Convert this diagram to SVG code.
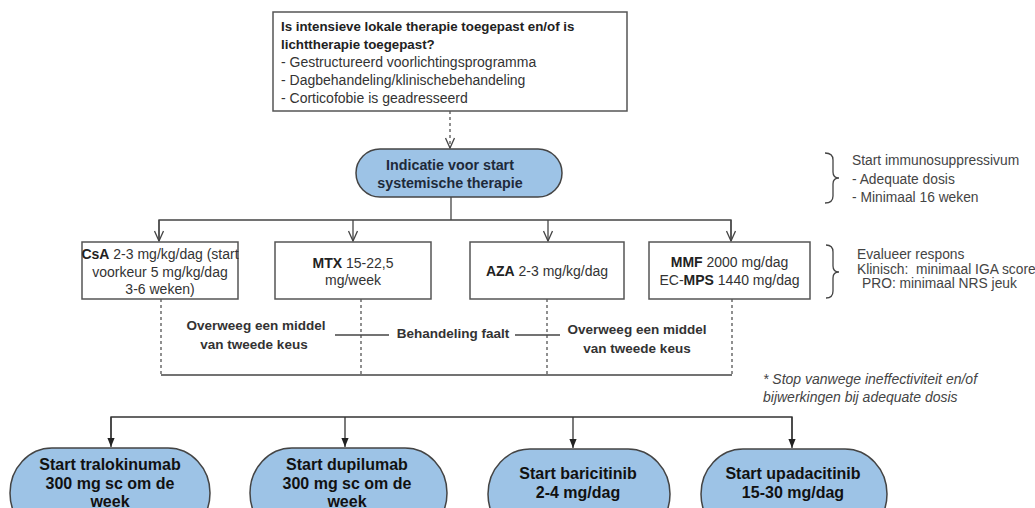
<svg xmlns="http://www.w3.org/2000/svg" width="1035" height="508" viewBox="0 0 1035 508">
<defs>
<style>
text{font-family:"Liberation Sans",Arial,sans-serif;}
.box{fill:#fff;stroke:#555;stroke-width:1.5;}
.pill{fill:#9dc3e6;stroke:#444;stroke-width:1.5;}
.t{font-size:14px;fill:#333;}
.tb{font-size:13.3px;font-weight:bold;fill:#222;}
.tr{font-size:14px;fill:#333;}
.b{font-weight:bold;fill:#222;}
.side{font-size:13.8px;fill:#444;}
.mid{font-size:13.5px;font-weight:bold;fill:#333;}
.pt{font-size:14.3px;font-weight:bold;fill:#1e2a3a;}
.bt{font-size:16px;font-weight:bold;fill:#111;}
.foot{font-size:14px;font-style:italic;fill:#444;}
.ln{fill:none;stroke:#444;stroke-width:1.3;}
.dash{fill:none;stroke:#555;stroke-width:1.3;stroke-dasharray:3,3;}
.lnb{fill:none;stroke:#333;stroke-width:1.3;}
</style>
<marker id="open" viewBox="0 0 12 10" refX="11" refY="5" markerWidth="12" markerHeight="10" markerUnits="userSpaceOnUse" orient="auto">
<path d="M1,0.5 L11,5 L1,9.5" fill="none" stroke="#444" stroke-width="1.3"/>
</marker>
<marker id="fill" viewBox="0 0 10 8" refX="10" refY="4" markerWidth="9" markerHeight="8" markerUnits="userSpaceOnUse" orient="auto">
<path d="M0,0 L10,4 L0,8 Z" fill="#222"/>
</marker>
</defs>

<g id="connectors">
<line class="dash" x1="450" y1="111" x2="450" y2="148" marker-end="url(#open)"/>
<line class="ln" x1="451" y1="197" x2="451" y2="220"/>
<polyline class="ln" points="159,241 159,220 731,220 731,241"/>
<line class="ln" x1="159" y1="220" x2="159" y2="241" marker-end="url(#open)"/>
<line class="ln" x1="353" y1="220" x2="353" y2="241" marker-end="url(#open)"/>
<line class="ln" x1="548" y1="220" x2="548" y2="241" marker-end="url(#open)"/>
<line class="ln" x1="731" y1="220" x2="731" y2="241" marker-end="url(#open)"/>
<line class="dash" x1="161" y1="299" x2="161" y2="375"/>
<line class="dash" x1="361" y1="299" x2="361" y2="375"/>
<line class="dash" x1="547" y1="299" x2="547" y2="375"/>
<line class="dash" x1="732" y1="299" x2="732" y2="375"/>
<line class="ln" x1="161" y1="375" x2="732" y2="375"/>
<line class="ln" x1="335" y1="335" x2="389" y2="335"/>
<line class="ln" x1="515" y1="335" x2="560" y2="335"/>
<polyline class="lnb" points="111,442 111,417 792,417 792,442"/>
<line class="lnb" x1="111" y1="417" x2="111" y2="447" marker-end="url(#fill)"/>
<line class="lnb" x1="345" y1="417" x2="345" y2="447" marker-end="url(#fill)"/>
<line class="lnb" x1="573" y1="417" x2="573" y2="448" marker-end="url(#fill)"/>
<line class="lnb" x1="792" y1="417" x2="792" y2="448" marker-end="url(#fill)"/>
</g>

<g id="top-question">
<rect class="box" x="273" y="12" width="354" height="99"/>
<text class="tb" x="281" y="31">Is intensieve lokale therapie toegepast en/of is</text>
<text class="tb" x="281" y="49">lichttherapie toegepast?</text>
<text class="tr" x="281" y="67">- Gestructureerd voorlichtingsprogramma</text>
<text class="tr" x="281" y="85">- Dagbehandeling/klinischebehandeling</text>
<text class="tr" x="281" y="103">- Corticofobie is geadresseerd</text>
</g>

<g id="indicatie">
<rect class="pill" x="356" y="149" width="206" height="48" rx="24" ry="24"/>
<text class="pt" x="450" y="170" text-anchor="middle">Indicatie voor start</text>
<text class="pt" x="450" y="188" text-anchor="middle">systemische therapie</text>
</g>

<g id="note-immuno">
<path class="ln" d="M825,153 Q833,153 833,160 L833,172 Q833,178 839,178 Q833,178 833,184 L833,196 Q833,203 825,203"/>
<text class="side" x="852" y="165">Start immunosuppressivum</text>
<text class="side" x="852" y="184">- Adequate dosis</text>
<text class="side" x="852" y="202">- Minimaal 16 weken</text>
</g>

<g id="csa">
<rect class="box" x="82" y="242" width="156" height="57"/>
<text class="t" x="160" y="259" text-anchor="middle" font-size="13.5"><tspan class="b">CsA</tspan> 2-3 mg/kg/dag (start</text>
<text class="t" x="160" y="277" text-anchor="middle" font-size="13.5">voorkeur 5 mg/kg/dag</text>
<text class="t" x="160" y="294" text-anchor="middle" font-size="13.5">3-6 weken)</text>
</g>

<g id="mtx">
<rect class="box" x="275" y="242" width="156" height="57"/>
<text class="t" x="353" y="268" text-anchor="middle"><tspan class="b">MTX</tspan> 15-22,5</text>
<text class="t" x="353" y="285" text-anchor="middle">mg/week</text>
</g>

<g id="aza">
<rect class="box" x="470" y="242" width="154" height="57"/>
<text class="t" x="547" y="276" text-anchor="middle"><tspan class="b">AZA</tspan> 2-3 mg/kg/dag</text>
</g>

<g id="mmf">
<rect class="box" x="649" y="242" width="161" height="57"/>
<text class="t" x="729.5" y="267" text-anchor="middle"><tspan class="b">MMF</tspan> 2000 mg/dag</text>
<text class="t" x="729.5" y="285" text-anchor="middle">EC-<tspan class="b">MPS</tspan> 1440 mg/dag</text>
</g>

<g id="note-evalueer">
<path class="ln" d="M826,245 Q833,245 833,252 L833,266 Q833,272 839,272 Q833,272 833,278 L833,291 Q833,298 826,298"/>
<text class="side" x="857" y="259" font-size="13.5">Evalueer respons</text>
<text class="side" x="857" y="274" font-size="13.5">Klinisch:&#160; minimaal IGA score</text>
<text class="side" x="862" y="288" font-size="13.5">PRO: minimaal NRS jeuk</text>
</g>

<g id="second-choice-left">
<text class="mid" x="256" y="330" text-anchor="middle">Overweeg een middel</text>
<text class="mid" x="254" y="349" text-anchor="middle">van tweede keus</text>
</g>

<g id="behandeling-faalt">
<text class="mid" x="453" y="338" text-anchor="middle">Behandeling faalt</text>
</g>

<g id="second-choice-right">
<text class="mid" x="637" y="334" text-anchor="middle">Overweeg een middel</text>
<text class="mid" x="637" y="353" text-anchor="middle">van tweede keus</text>
</g>

<g id="footnote">
<text class="foot" x="763" y="384">* Stop vanwege ineffectiviteit en/of</text>
<text class="foot" x="763" y="402">bijwerkingen bij adequate dosis</text>
</g>

<g id="tralokinumab">
<rect class="pill" x="10" y="448" width="200" height="90" rx="42" ry="45"/>
<text class="bt" x="110" y="470" text-anchor="middle">Start tralokinumab</text>
<text class="bt" x="110" y="489" text-anchor="middle">300 mg sc om de</text>
<text class="bt" x="110" y="507" text-anchor="middle">week</text>
</g>

<g id="dupilumab">
<rect class="pill" x="250" y="448" width="197" height="90" rx="42" ry="45"/>
<text class="bt" x="347" y="470" text-anchor="middle">Start dupilumab</text>
<text class="bt" x="347" y="489" text-anchor="middle">300 mg sc om de</text>
<text class="bt" x="347" y="507" text-anchor="middle">week</text>
</g>

<g id="baricitinib">
<rect class="pill" x="488" y="449" width="182" height="90" rx="42" ry="45"/>
<text class="bt" x="578" y="479" text-anchor="middle">Start baricitinib</text>
<text class="bt" x="578" y="498" text-anchor="middle">2-4 mg/dag</text>
</g>

<g id="upadacitinib">
<rect class="pill" x="701" y="449" width="186" height="90" rx="42" ry="45"/>
<text class="bt" x="793" y="479" text-anchor="middle">Start upadacitinib</text>
<text class="bt" x="793" y="498" text-anchor="middle">15-30 mg/dag</text>
</g>
</svg>
